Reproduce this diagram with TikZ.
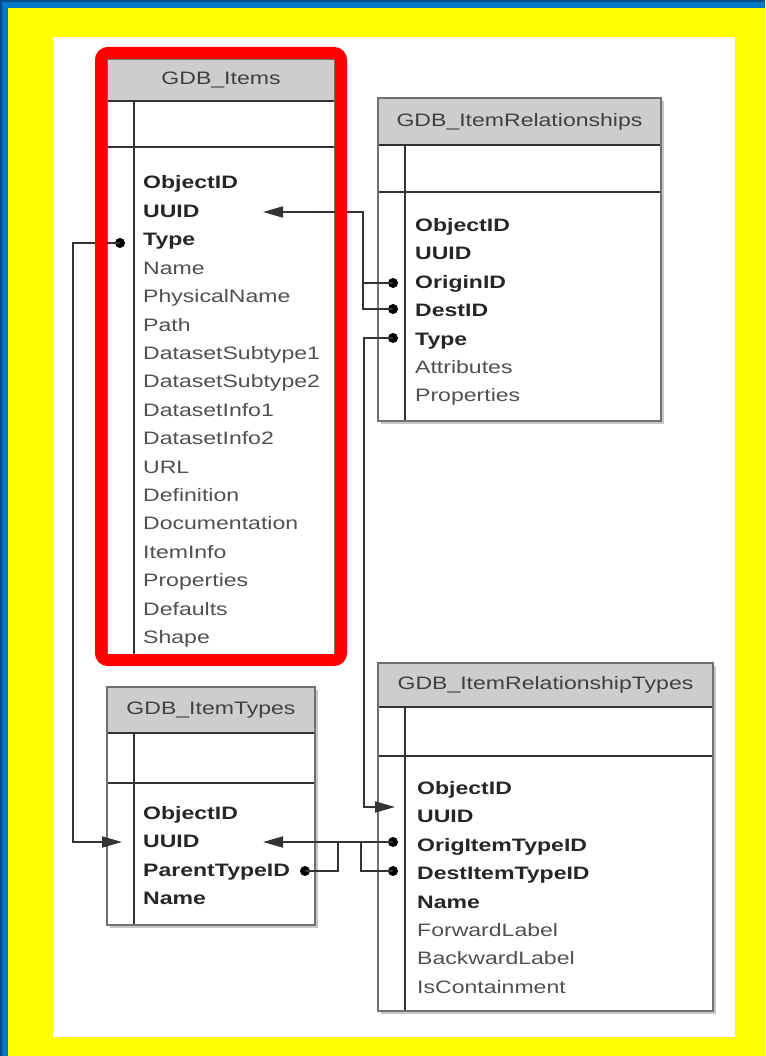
\documentclass[tikz,border=0pt]{standalone}
\usepackage{fontspec}
\newfontfamily\tf[FakeStretch=1.28]{Liberation Sans}
\usetikzlibrary{arrows.meta}
\definecolor{frameblue}{HTML}{0078C8}
\definecolor{navy}{HTML}{0A4A8A}
\definecolor{hdr}{HTML}{CDCDCD}
\definecolor{keytxt}{HTML}{262626}
\definecolor{plaintxt}{HTML}{505050}
\definecolor{rulec}{HTML}{333333}
\definecolor{framey}{HTML}{FFFF00}
\tikzset{
  tbl/.style={draw=rulec!70, line width=2pt},
  tblin/.style={draw=rulec, line width=1.8pt},
  hdrtxt/.style={inner sep=0, font=\tf\fontsize{18}{20}\selectfont, text=black!75},
  keyf/.style={anchor=base west, inner sep=0, font=\tf\bfseries\fontsize{18}{20}\selectfont, text=keytxt},
  fld/.style={anchor=base west, inner sep=0, font=\tf\fontsize{18}{20}\selectfont, text=plaintxt},
  conn/.style={draw=rulec, line width=1.9pt},
  arr/.style={conn, -{Triangle[length=20pt,width=11pt]}},
  dotn/.style={circle, fill=black, inner sep=0, minimum size=10pt},
}
\newcommand\dbtbl[8]{%
  \fill[black!22] (#1+3,#2+3) rectangle (#3+3,#4+3);
  \fill[white] (#1,#2) rectangle (#3,#4);
  \fill[hdr] (#1,#2) rectangle (#3,#5);
  \draw[tblin] (#1,#5) -- (#3,#5);
  \draw[tblin] (#1,#6) -- (#3,#6);
  \draw[tblin] (#1+27,#5) -- (#1+27,#4);
  \draw[tbl] (#1,#2) rectangle (#3,#4);
  \node[hdrtxt] (#8) at ({(#1+#3)/2},{(#2+#5)/2}) {#7};
}
\begin{document}
\begin{tikzpicture}[x=1pt,y=-1pt]
\useasboundingbox (0,0) rectangle (765,1056);
% frame
\fill[framey] (0,0) rectangle (765,1056);
\fill[frameblue] (0,0) rectangle (765,8);
\fill[frameblue] (0,0) rectangle (8,1056);
\fill[navy] (0,0) rectangle (765,2);
\fill[navy] (0,0) rectangle (2,1056);
\fill[white] (53,37) rectangle (735,1037);

% tables
\dbtbl{107}{59}{335}{656}{101}{147}{GDB\_Items}{tItems}
\dbtbl{378}{98}{661}{421}{145}{192}{GDB\_ItemRelationships}{tRel}
\dbtbl{107}{687}{315}{925}{733}{783}{GDB\_ItemTypes}{tTypes}
\dbtbl{378}{663}{713}{1011}{707}{756}{GDB\_ItemRelationshipTypes}{tRelTypes}

% fields
\foreach \t/\s [count=\i] in {ObjectID/keyf,UUID/keyf,Type/keyf,Name/fld,PhysicalName/fld,Path/fld,DatasetSubtype1/fld,DatasetSubtype2/fld,DatasetInfo1/fld,DatasetInfo2/fld,URL/fld,Definition/fld,Documentation/fld,ItemInfo/fld,Properties/fld,Defaults/fld,Shape/fld}
  \node[\s] (it\i) at (143,{189+(\i-1)*28.4}) {\t};
\foreach \t/\s [count=\i] in {ObjectID/keyf,UUID/keyf,OriginID/keyf,DestID/keyf,Type/keyf,Attributes/fld,Properties/fld}
  \node[\s] (ir\i) at (415,{231.5+(\i-1)*28.4}) {\t};
\foreach \t/\s [count=\i] in {ObjectID/keyf,UUID/keyf,ParentTypeID/keyf,Name/keyf}
  \node[\s] (ty\i) at (143,{819.5+(\i-1)*28.4}) {\t};
\foreach \t/\s [count=\i] in {ObjectID/keyf,UUID/keyf,OrigItemTypeID/keyf,DestItemTypeID/keyf,Name/keyf,ForwardLabel/fld,BackwardLabel/fld,IsContainment/fld}
  \node[\s] (rt\i) at (417,{794.5+(\i-1)*28.4}) {\t};

% connector end points and dots
\node[dotn] (oriD) at (393,283) {};
\node[dotn] (desD) at (393,309) {};
\node[dotn] (rtyD) at (393,338) {};
\node[dotn] (tyD) at (120,243) {};
\node[dotn] (orgD) at (393,842) {};
\node[dotn] (dstD) at (393,871) {};
\node[dotn] (parD) at (305,871) {};
\coordinate (uA) at (263,212);
\coordinate (j1) at (363,212);
\coordinate (tA) at (122,842);
\coordinate (j2) at (73,842);
\coordinate (rA) at (395,807);
\coordinate (j3) at (364,807);
\coordinate (tuA) at (263,842);
\coordinate (j4) at (338,842);
\coordinate (j5) at (361,842);

\draw[arr] (oriD.center) -| (j1) -- (uA);
\draw[conn] (desD.center) -| (j1);
\draw[arr] (tyD.center) -| (j2) -- (tA);
\draw[arr] (rtyD.center) -| (j3) -- (rA);
\draw[arr] (orgD.center) -- (tuA);
\draw[conn] (parD.center) -| (j4);
\draw[conn] (dstD.center) -| (j5);

% red highlight
\draw[red, line width=12pt, rounded corners=7pt] (101,53) rectangle (341,660);
\end{tikzpicture}
\end{document}
